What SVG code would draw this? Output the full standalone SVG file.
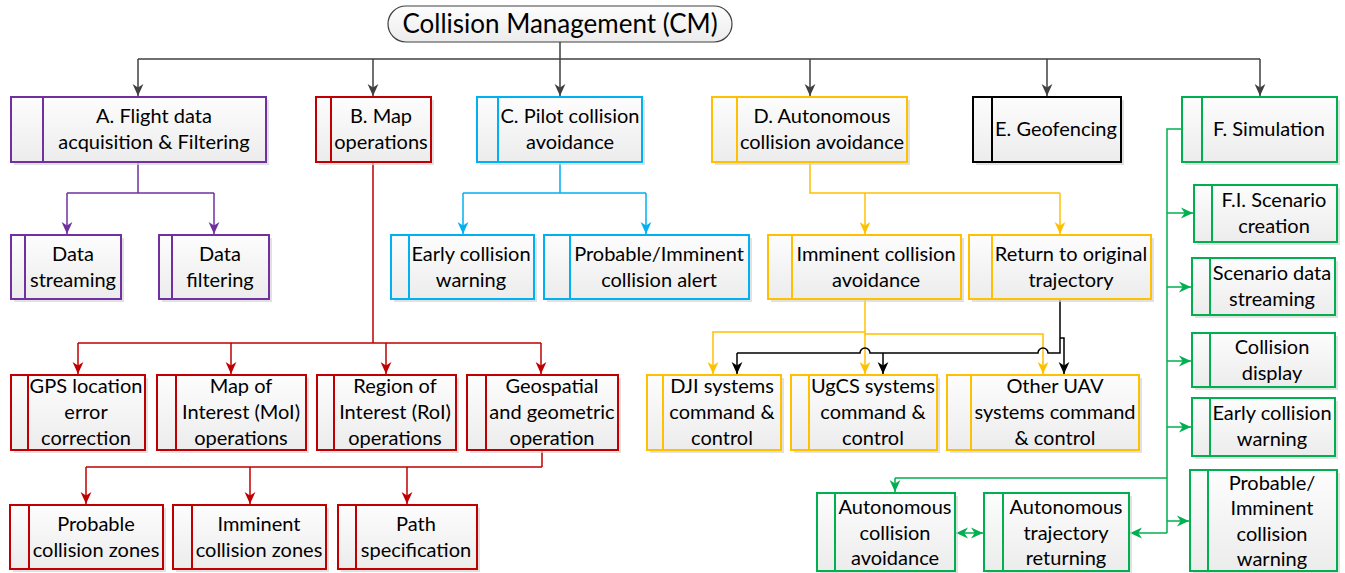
<svg xmlns="http://www.w3.org/2000/svg" width="1345" height="573" viewBox="0 0 1345 573">
<defs>
<linearGradient id="g" x1="0" y1="0" x2="0" y2="1"><stop offset="0" stop-color="#fdfdfd"/><stop offset="1" stop-color="#ececec"/></linearGradient>
<marker id="aK" markerUnits="userSpaceOnUse" markerWidth="12" markerHeight="12" viewBox="0 0 10 10" refX="10" refY="5" orient="auto"><path d="M0,0.5 L10,5 L0,9.5 L3,5 z" fill="#404040"/></marker>
<marker id="aP" markerUnits="userSpaceOnUse" markerWidth="12" markerHeight="12" viewBox="0 0 10 10" refX="10" refY="5" orient="auto"><path d="M0,0.5 L10,5 L0,9.5 L3,5 z" fill="#7030a0"/></marker>
<marker id="aR" markerUnits="userSpaceOnUse" markerWidth="12" markerHeight="12" viewBox="0 0 10 10" refX="10" refY="5" orient="auto"><path d="M0,0.5 L10,5 L0,9.5 L3,5 z" fill="#c00000"/></marker>
<marker id="aB" markerUnits="userSpaceOnUse" markerWidth="12" markerHeight="12" viewBox="0 0 10 10" refX="10" refY="5" orient="auto"><path d="M0,0.5 L10,5 L0,9.5 L3,5 z" fill="#00b0f0"/></marker>
<marker id="aY" markerUnits="userSpaceOnUse" markerWidth="12" markerHeight="12" viewBox="0 0 10 10" refX="10" refY="5" orient="auto"><path d="M0,0.5 L10,5 L0,9.5 L3,5 z" fill="#ffc000"/></marker>
<marker id="aX" markerUnits="userSpaceOnUse" markerWidth="12" markerHeight="12" viewBox="0 0 10 10" refX="10" refY="5" orient="auto"><path d="M0,0.5 L10,5 L0,9.5 L3,5 z" fill="#000"/></marker>
<marker id="aG" markerUnits="userSpaceOnUse" markerWidth="12" markerHeight="12" viewBox="0 0 10 10" refX="10" refY="5" orient="auto"><path d="M0,0.5 L10,5 L0,9.5 L3,5 z" fill="#00b050"/></marker>
<marker id="aGs" markerUnits="userSpaceOnUse" markerWidth="12" markerHeight="12" viewBox="0 0 10 10" refX="0" refY="5" orient="auto"><path d="M10,0.5 L0,5 L10,9.5 L7,5 z" fill="#00b050"/></marker>
</defs>
<style>
.sh{fill:#d4d4d4;opacity:.7}
.bx{fill:url(#g);stroke-width:2}
.dv{fill:none;stroke-width:2}
.t{font-family:Lato,"Liberation Sans",sans-serif;font-size:20px;fill:#000;text-anchor:middle}
.P{stroke:#7030a0}.R{stroke:#c00000}.B{stroke:#00b0f0}.Y{stroke:#ffc000}.K{stroke:#000}.G{stroke:#00b050}
.c{fill:none;stroke-width:1.5}
</style>
<g id="connectors">
<path class="c" stroke="#404040" d="M560,42 V59 M138,59 H1260"/>
<g stroke="#404040" class="c" marker-end="url(#aK)">
<path d="M138,59 V96"/><path d="M373,59 V96"/><path d="M560,59 V96"/><path d="M810,59 V96"/><path d="M1047,59 V96"/><path d="M1260,59 V96"/>
</g>
<path class="c P" d="M138,162 V193 M67,193 H214"/>
<g class="c P" marker-end="url(#aP)"><path d="M67,193 V234"/><path d="M214,193 V234"/></g>
<path class="c R" stroke-width="2" d="M373,162 V343 M78,343 H541 M542,450 V467 M86,467 H542"/>
<g class="c R" marker-end="url(#aR)"><path d="M78,343 V374"/><path d="M231,343 V374"/><path d="M386,343 V374"/><path d="M541,343 V374"/><path d="M86,467 V504"/><path d="M250,467 V504"/><path d="M407,467 V504"/></g>
<path class="c B" d="M560,162 V193 M463,193 H646"/>
<g class="c B" marker-end="url(#aB)"><path d="M463,193 V234"/><path d="M646,193 V234"/></g>
<path class="c Y" d="M810,162 V193 H1060"/>
<g class="c Y" marker-end="url(#aY)"><path d="M865,193 V234"/><path d="M1060,193 V234"/><path d="M865,299 V374"/><path d="M865,332 H713 V374"/><path d="M865,334 H1043 V374"/></g>
<path class="c K" d="M1060,299 V353 H1048 a5,5 0 0 0 -10,0 H870 a5,5 0 0 0 -10,0 H737" fill="none"/>
<g class="c K" marker-end="url(#aX)"><path d="M737,353 V374"/><path d="M883,353 V374"/><path d="M1060,338 H1064 V374"/></g>
<path class="c G" d="M1182,129 H1167 V533 M1167,478 H895"/>
<g class="c G" marker-end="url(#aG)"><path d="M1167,213 H1193"/><path d="M1167,287 H1191"/><path d="M1167,361 H1191"/><path d="M1167,427 H1191"/><path d="M1167,521 H1189"/><path d="M895,478 V492"/><path d="M1167,533 H1130"/><path d="M956,533 H983" marker-start="url(#aGs)"/></g>
</g>
<g id="root">
<rect x="388" y="6" width="344" height="36" rx="18" fill="url(#g)" stroke="#404040" stroke-width="1.2"/>
<text class="t" x="560" y="33" style="font-size:26px">Collision Management (CM)</text>
</g>
<g id="A"><rect class="sh" x="14" y="100" width="255" height="65"/><rect class="bx P" x="11" y="97" width="255" height="65"/><path class="dv P" d="M43,97 V162"/><text class="t" x="154" y="123">A. Flight data</text><text class="t" x="154" y="149">acquisition &amp; Filtering</text></g>
<g id="B"><rect class="sh" x="319" y="100" width="115" height="65"/><rect class="bx R" x="316" y="97" width="115" height="65"/><path class="dv R" d="M331,97 V162"/><text class="t" x="381" y="123">B. Map</text><text class="t" x="381" y="149">operations</text></g>
<g id="C"><rect class="sh" x="480" y="100" width="165" height="65"/><rect class="bx B" x="477" y="97" width="165" height="65"/><path class="dv B" d="M498,97 V162"/><text class="t" x="570" y="123">C. Pilot collision</text><text class="t" x="570" y="149">avoidance</text></g>
<g id="D"><rect class="sh" x="715" y="100" width="195" height="65"/><rect class="bx Y" x="712" y="97" width="195" height="65"/><path class="dv Y" d="M737,97 V162"/><text class="t" x="822" y="123">D. Autonomous</text><text class="t" x="822" y="149">collision avoidance</text></g>
<g id="E"><rect class="sh" x="976" y="100" width="148" height="65"/><rect class="bx K" x="973" y="97" width="148" height="65"/><path class="dv K" d="M992,97 V162"/><text class="t" x="1056" y="136">E. Geofencing</text></g>
<g id="F"><rect class="sh" x="1185" y="100" width="155" height="65"/><rect class="bx G" x="1182" y="97" width="155" height="65"/><path class="dv G" d="M1202,97 V162"/><text class="t" x="1269" y="136">F. Simulation</text></g>
<g id="A1"><rect class="sh" x="14" y="238" width="110" height="64"/><rect class="bx P" x="11" y="235" width="110" height="64"/><path class="dv P" d="M25,235 V299"/><text class="t" x="73" y="261">Data</text><text class="t" x="73" y="287">streaming</text></g>
<g id="A2"><rect class="sh" x="162" y="238" width="110" height="64"/><rect class="bx P" x="159" y="235" width="110" height="64"/><path class="dv P" d="M172,235 V299"/><text class="t" x="220" y="261">Data</text><text class="t" x="220" y="287">filtering</text></g>
<g id="C1"><rect class="sh" x="394" y="238" width="143" height="64"/><rect class="bx B" x="391" y="235" width="143" height="64"/><path class="dv B" d="M409,235 V299"/><text class="t" x="471" y="261">Early collision</text><text class="t" x="471" y="287">warning</text></g>
<g id="C2"><rect class="sh" x="547" y="238" width="205" height="64"/><rect class="bx B" x="544" y="235" width="205" height="64"/><path class="dv B" d="M570,235 V299"/><text class="t" x="659" y="261">Probable/Imminent</text><text class="t" x="659" y="287">collision alert</text></g>
<g id="D1"><rect class="sh" x="771" y="238" width="193" height="64"/><rect class="bx Y" x="768" y="235" width="193" height="64"/><path class="dv Y" d="M792,235 V299"/><text class="t" x="876" y="261">Imminent collision</text><text class="t" x="876" y="287">avoidance</text></g>
<g id="D2"><rect class="sh" x="972" y="238" width="182" height="64"/><rect class="bx Y" x="969" y="235" width="182" height="64"/><path class="dv Y" d="M992,235 V299"/><text class="t" x="1071" y="261">Return to original</text><text class="t" x="1071" y="287">trajectory</text></g>
<g id="B1"><rect class="sh" x="14" y="378" width="134" height="75"/><rect class="bx R" x="11" y="375" width="134" height="75"/><path class="dv R" d="M28,375 V450"/><text class="t" x="86" y="393">GPS location</text><text class="t" x="86" y="419">error</text><text class="t" x="86" y="445">correction</text></g>
<g id="B2"><rect class="sh" x="160" y="378" width="149" height="75"/><rect class="bx R" x="157" y="375" width="149" height="75"/><path class="dv R" d="M176,375 V450"/><text class="t" x="241" y="393">Map of</text><text class="t" x="241" y="419">Interest (MoI)</text><text class="t" x="241" y="445">operations</text></g>
<g id="B3"><rect class="sh" x="320" y="378" width="139" height="75"/><rect class="bx R" x="317" y="375" width="139" height="75"/><path class="dv R" d="M334,375 V450"/><text class="t" x="395" y="393">Region of</text><text class="t" x="395" y="419">Interest (RoI)</text><text class="t" x="395" y="445">operations</text></g>
<g id="B4"><rect class="sh" x="470" y="378" width="151" height="75"/><rect class="bx R" x="467" y="375" width="151" height="75"/><path class="dv R" d="M486,375 V450"/><text class="t" x="552" y="393">Geospatial</text><text class="t" x="552" y="419">and geometric</text><text class="t" x="552" y="445">operation</text></g>
<g id="D3"><rect class="sh" x="650" y="378" width="134" height="75"/><rect class="bx Y" x="647" y="375" width="134" height="75"/><path class="dv Y" d="M663,375 V450"/><text class="t" x="722" y="393">DJI systems</text><text class="t" x="722" y="419">command &amp;</text><text class="t" x="722" y="445">control</text></g>
<g id="D4"><rect class="sh" x="794" y="378" width="146" height="75"/><rect class="bx Y" x="791" y="375" width="146" height="75"/><path class="dv Y" d="M809,375 V450"/><text class="t" x="873" y="393">UgCS systems</text><text class="t" x="873" y="419">command &amp;</text><text class="t" x="873" y="445">control</text></g>
<g id="D5"><rect class="sh" x="950" y="378" width="192" height="75"/><rect class="bx Y" x="947" y="375" width="192" height="75"/><path class="dv Y" d="M971,375 V450"/><text class="t" x="1055" y="393">Other UAV</text><text class="t" x="1055" y="419">systems command</text><text class="t" x="1055" y="445">&amp; control</text></g>
<g id="B5"><rect class="sh" x="13" y="508" width="153" height="64"/><rect class="bx R" x="10" y="505" width="153" height="64"/><path class="dv R" d="M29,505 V569"/><text class="t" x="96" y="531">Probable</text><text class="t" x="96" y="557">collision zones</text></g>
<g id="B6"><rect class="sh" x="176" y="508" width="153" height="64"/><rect class="bx R" x="173" y="505" width="153" height="64"/><path class="dv R" d="M192,505 V569"/><text class="t" x="259" y="531">Imminent</text><text class="t" x="259" y="557">collision zones</text></g>
<g id="B7"><rect class="sh" x="341" y="508" width="139" height="64"/><rect class="bx R" x="338" y="505" width="139" height="64"/><path class="dv R" d="M356,505 V569"/><text class="t" x="416" y="531">Path</text><text class="t" x="416" y="557">specification</text></g>
<g id="F1"><rect class="sh" x="1197" y="188" width="143" height="57"/><rect class="bx G" x="1194" y="185" width="143" height="57"/><path class="dv G" d="M1212,185 V242"/><text class="t" x="1274" y="207">F.I. Scenario</text><text class="t" x="1274" y="233">creation</text></g>
<g id="F2"><rect class="sh" x="1195" y="261" width="143" height="57"/><rect class="bx G" x="1192" y="258" width="143" height="57"/><path class="dv G" d="M1210,258 V315"/><text class="t" x="1272" y="280">Scenario data</text><text class="t" x="1272" y="306">streaming</text></g>
<g id="F3"><rect class="sh" x="1195" y="336" width="143" height="54"/><rect class="bx G" x="1192" y="333" width="143" height="54"/><path class="dv G" d="M1210,333 V387"/><text class="t" x="1272" y="354">Collision</text><text class="t" x="1272" y="380">display</text></g>
<g id="F4"><rect class="sh" x="1195" y="401" width="143" height="58"/><rect class="bx G" x="1192" y="398" width="143" height="58"/><path class="dv G" d="M1210,398 V456"/><text class="t" x="1272" y="420">Early collision</text><text class="t" x="1272" y="446">warning</text></g>
<g id="F5"><rect class="sh" x="1193" y="473" width="147" height="100"/><rect class="bx G" x="1190" y="470" width="147" height="101"/><path class="dv G" d="M1208,470 V571"/><text class="t" x="1272" y="490">Probable/</text><text class="t" x="1272" y="515">Imminent</text><text class="t" x="1272" y="541">collision</text><text class="t" x="1272" y="566">warning</text></g>
<g id="F6"><rect class="sh" x="820" y="496" width="138" height="77"/><rect class="bx G" x="817" y="493" width="138" height="78"/><path class="dv G" d="M835,493 V571"/><text class="t" x="895" y="514">Autonomous</text><text class="t" x="895" y="540">collision</text><text class="t" x="895" y="565">avoidance</text></g>
<g id="F7"><rect class="sh" x="987" y="496" width="145" height="77"/><rect class="bx G" x="984" y="493" width="145" height="78"/><path class="dv G" d="M1003,493 V571"/><text class="t" x="1066" y="514">Autonomous</text><text class="t" x="1066" y="540">trajectory</text><text class="t" x="1066" y="565">returning</text></g>
</svg>
